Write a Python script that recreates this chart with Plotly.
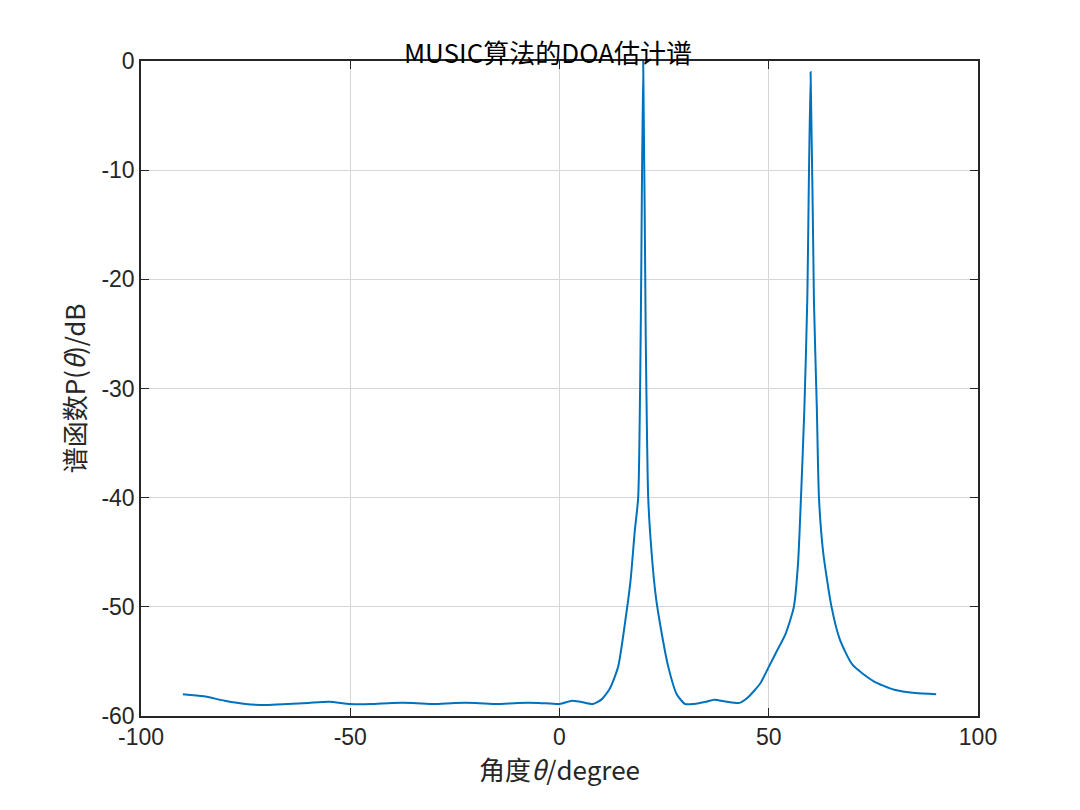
import plotly.graph_objects as go

angle = [-90,-85,-80,-75,-70,-65,-60,-55,-50,-45,-40,-35,-30,-25,-20,-15,-10,-5,0,3,5,8,10,12,14,16,17,18,18.8,19.4,20,20.6,21.2,22,23,24,26,28,30,32,35,37,40,43,45,48,50,52,54,56,57,57.7,58.5,59.2,60,60.8,61.5,62,63,65,67,70,75,80,85,90]
power = [-58.0,-58.2,-58.6,-58.9,-59.0,-58.9,-58.8,-58.7,-58.9,-58.9,-58.8,-58.8,-58.9,-58.8,-58.8,-58.9,-58.8,-58.8,-58.9,-58.6,-58.7,-58.9,-58.5,-57.5,-55.5,-50.5,-47.5,-43,-40,-25,0,-25,-40,-45,-49,-51.5,-55.5,-58,-58.9,-58.9,-58.7,-58.5,-58.7,-58.8,-58.3,-57,-55.5,-54,-52.5,-50,-46,-40,-32,-22,-1,-22,-32,-40,-45,-50,-53,-55.3,-56.8,-57.6,-57.9,-58.0]
x_ticks = [-100, -50, 0, 50, 100]
y_ticks = [-60, -50, -40, -30, -20, -10, 0]

fig = go.Figure(go.Scatter(x=angle, y=power, mode="lines",
                           line=dict(color="#0072BD", width=2, shape="spline", smoothing=0.6)))
ax = dict(showline=True, mirror="ticks", linecolor="#262626", linewidth=1.5,
          ticks="inside", ticklen=8, tickcolor="#262626", showgrid=True,
          gridcolor="#D6D6D6", zeroline=False,
          tickfont=dict(family="Liberation Sans, Arial", size=23, color="#262626"))
fig.update_xaxes(range=[-100,100], tickvals=x_ticks, ticktext=[str(v) for v in x_ticks], **ax,
                 title=dict(text="角度<i>θ</i>/degree", standoff=6,
                            font=dict(family="Noto Sans CJK SC", size=26, color="#262626")))
fig.update_yaxes(range=[-60,0], tickvals=y_ticks, ticktext=[str(v) for v in y_ticks], **ax,
                 title=dict(text="谱函数P(<i>θ</i>)/dB", standoff=8,
                            font=dict(family="Noto Sans CJK SC", size=26, color="#262626")))
fig.update_layout(width=1080, height=810, plot_bgcolor="white", paper_bgcolor="white",
                  margin=dict(l=133, r=110, t=53, b=102), showlegend=False,
                  title=dict(text="MUSIC算法的DOA估计谱", x=0.5, xanchor="center", y=0.955,
                             font=dict(family="Noto Sans CJK SC", size=26, color="#000")))
fig.write_html("out.html")
